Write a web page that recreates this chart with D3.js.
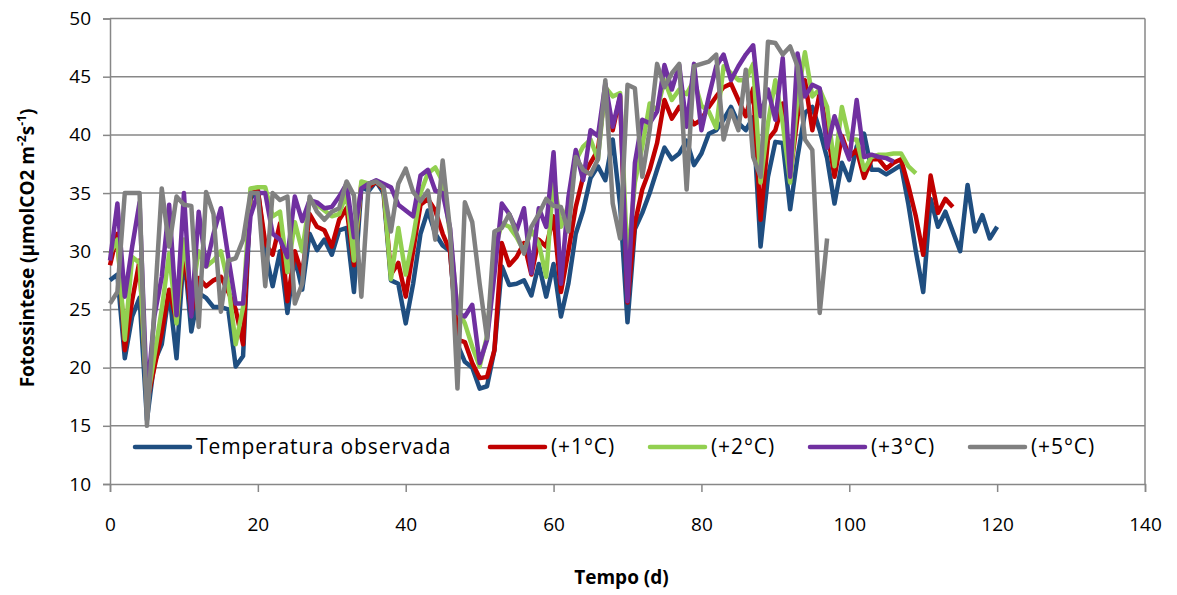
<!DOCTYPE html>
<html>
<head>
<meta charset="utf-8">
<script src="https://cdn.jsdelivr.net/npm/d3@7"></script>
<style>
  body { margin: 0; background: #fff; }
  svg { font-family: "Open Sans", sans-serif; }
</style>
</head>
<body>
<svg width="1177" height="595"></svg>
<script>
// values, one per day (day 0 .. n-1)
const observada = [27.5,28,20.8,24.4,26,15.5,20.5,22,26.5,20.8,30,23.1,26.4,26,25.2,25.2,25,20.1,21,34.5,
  35.3,30,27,30,24.7,29.5,26.7,31.5,30.1,31,29.7,31.8,32,26.5,35.5,35.2,36,35,27.5,27.2,
  23.8,27.2,31.5,33.5,31.5,30.5,30,22,20.5,20,18.2,18.4,21.5,28.7,27.1,27.2,27.5,26.2,28.9,26.1,
  28.9,24.4,27.2,31.5,33.5,36.3,37.3,36.1,39.6,34,23.9,31.9,33.3,35,37,38.9,37.9,38.4,39.5,37.4,
  38.4,40.1,40.4,41.3,42.4,41,40.4,41.5,30.4,36.4,39.4,39.3,33.6,38.1,41.9,42.4,40.4,38,34.1,37.6,
  36.1,39,40.1,37,37,36.6,37,37.4,34,30,26.5,34.5,32.1,33.4,31.7,30,35.7,31.7,33.1,31.1,32.1];
const mais1 = [28.8,31.5,21.5,25.8,29.2,17,20,23,26.7,24,30,24.6,27.7,27,27.5,27.8,26.5,25,22,35,
  35.2,30.7,29.7,32.4,25.7,30,28,33.2,32.1,31.8,30.4,32.7,33.7,28.8,35.8,35.5,36,35.3,28,29,
  26.1,30,34,34.5,33.5,31.5,30,22.4,22.2,20.4,19.1,19.2,21.5,30.7,28.8,29.5,30.7,28,31,30.4,
  33,26.5,30,33.8,36.4,37.6,38.7,43.9,40.4,43.3,25.6,32.4,35.3,37,39.3,43,41.4,42.4,41.9,40.9,
  41.3,42.4,43.3,44.1,44.4,43,41.6,44,32.7,39.6,40.4,42.7,36.4,41.6,44.7,40.4,43.6,40.4,36.4,39.9,
  38.1,38.7,36.3,37.9,37.9,37.1,37.6,37.9,35.6,33,29.7,36.5,33.3,34.5,33.8];
const mais2 = [29.8,31,22.4,29.5,29,17,21,25,29.8,23.8,31,26,30,28.7,29.2,30,27.2,22,25.2,35.4,
  35.5,35.5,33,33.4,28.2,32.5,30,34.4,34,33.5,33,33.2,35,29.2,36,35.8,36,35.5,27.6,32,
  28,31.2,35,36.7,37.2,36,31.5,25,23.8,21.8,20.1,22.7,30,32.4,32.1,31.2,30,31.8,30.7,27.8,
  36.4,32.1,34,37.8,39,39.6,37.9,44.1,43.3,43.6,29,35.9,39,42.7,42.1,44.7,43,43.9,43.5,44.7,
  42.5,42,40.6,45.9,45.3,44.7,44.7,46.1,35.9,41,44.7,41,35.9,43.3,47.1,43.3,43.9,42.4,37.3,42.4,
  39.6,39.6,37,38.1,38.3,38.3,38.4,38.4,37.3,36.7];
const mais3 = [29.2,34.1,26.1,30.4,34.2,17.5,24.4,27.8,34,24.5,35,24.4,33.4,28.7,31.5,33.7,29.5,25.5,25.5,33,
  35,35,31.5,31,29.5,34.7,32.6,34.4,34.2,33.7,33.8,34.7,35.8,31.2,35.4,35.8,36.1,35.8,35.5,34,
  33.5,33,36.5,37,35.2,35,32,24.7,24.4,25.4,20.4,22.4,28,34.1,33.2,31.8,33.7,28.1,33.7,32.1,
  38.5,27.2,34.6,38.7,36.1,40.4,39.9,44.4,40.7,43.4,25.7,37.6,41.3,41,42,46,43.9,46,40.7,46.1,
  40.4,43.3,45.9,46.9,44.7,45.9,46.9,47.7,41.6,43.9,41.3,46.6,36.4,47,43.3,44.3,44,38.9,41.6,39.6,
  37.9,43,38.1,38.3,38.1,38,37.7];
const mais5 = [25.5,26.5,35,35,35,15,25,35.4,30.4,34.7,34,33.9,23.5,35.1,33.2,24.8,29.2,29.4,31,35,
  35,27,35,34.4,34.7,25.5,27.2,34.7,33.4,32.7,33.4,33.7,36,34.8,26.1,35.8,36,35.5,31.7,35.8,
  37.1,35.1,34.3,35.2,31,37.8,31.8,18.2,34.2,32.5,27.2,22.5,31.7,32,33.2,31.5,29.8,32.1,33.2,34.5,
  33.9,33.8,31.7,38.1,37,36.6,37.9,44.7,34.1,31.1,44.3,44,36.4,40.4,46.1,44.1,45.3,46.1,35.3,45.9,
  46.1,46.3,46.9,39.6,42.1,40.4,45.6,38.1,36.4,48,47.9,46.9,47.6,45.9,39.6,38.7,24.7,31.1];

const seriesNames = ["Temperatura observada", "(+1°C)", "(+2°C)", "(+3°C)", "(+5°C)"];
const seriesColors = ["#1f4e80", "#c00000", "#92d050", "#7030a0", "#808080"];
const xTicks = [0, 20, 40, 60, 80, 100, 120, 140];
const yTicks = [10, 15, 20, 25, 30, 35, 40, 45, 50];

const allSeries = [observada, mais1, mais2, mais3, mais5];

const svg = d3.select("svg");
const gridColor = "#878787";

const x = d3.scaleLinear().domain([0, 140]).range([110, 1145]);
const y = d3.scaleLinear().domain([10, 50]).range([484, 18.5]);

// horizontal gridlines
svg.append("g")
  .selectAll("line")
  .data(yTicks.slice(1))
  .join("line")
    .attr("x1", x(0)).attr("x2", x(140))
    .attr("y1", d => y(d)).attr("y2", d => y(d))
    .attr("stroke", gridColor)
    .attr("stroke-width", 1.5);

// right border of plot area
svg.append("line")
  .attr("x1", x(140)).attr("x2", x(140))
  .attr("y1", y(50)).attr("y2", y(10))
  .attr("stroke", gridColor).attr("stroke-width", 1.5);

// Y axis
const yAxis = svg.append("g")
  .attr("transform", `translate(${x(0)},0)`)
  .call(d3.axisLeft(y).tickValues(yTicks).tickSize(7).tickPadding(12));
yAxis.select(".domain").attr("stroke", gridColor).attr("stroke-width", 1.5);
yAxis.selectAll(".tick line").attr("stroke", gridColor).attr("stroke-width", 1.5);
yAxis.selectAll("text").attr("font-size", 19).attr("fill", "#000").attr("font-family", "Open Sans");

// X axis
const xAxis = svg.append("g")
  .attr("transform", `translate(0,${y(10)})`)
  .call(d3.axisBottom(x).tickValues(xTicks).tickSize(8).tickPadding(26));
xAxis.select(".domain").attr("stroke", gridColor).attr("stroke-width", 1.5);
xAxis.selectAll(".tick line").attr("stroke", gridColor).attr("stroke-width", 1.5);
xAxis.selectAll("text").attr("font-size", 19).attr("fill", "#000").attr("font-family", "Open Sans");

// lines
const line = d3.line()
  .x((d, i) => x(i))
  .y(d => y(d));

svg.append("g")
  .selectAll("path")
  .data(allSeries)
  .join("path")
    .attr("d", line)
    .attr("fill", "none")
    .attr("stroke", (d, i) => seriesColors[i])
    .attr("stroke-width", 4.5)
    .attr("stroke-linejoin", "round");

// legend
const legendX = [135, 490, 650, 810, 970];
const legend = svg.append("g")
  .selectAll("g")
  .data(seriesNames)
  .join("g")
    .attr("transform", (d, i) => `translate(${legendX[i]},447)`);
legend.append("line")
  .attr("x1", 0).attr("x2", 55)
  .attr("stroke", (d, i) => seriesColors[i])
  .attr("stroke-width", 4.5)
  .attr("stroke-linecap", "round");
legend.append("text")
  .attr("x", 61)
  .attr("dy", "0.35em")
  .attr("font-size", 21)
  .attr("letter-spacing", 0.9)
  .text(d => d);

// axis titles
svg.append("text")
  .attr("x", x(70) - 6)
  .attr("y", 577)
  .attr("dy", "0.35em")
  .attr("text-anchor", "middle")
  .attr("font-size", 19)
  .attr("font-weight", "bold")
  .text("Tempo (d)");

const yTitle = svg.append("text")
  .attr("transform", "translate(27,248) rotate(-90)")
  .attr("dy", "0.35em")
  .attr("text-anchor", "middle")
  .attr("font-size", 19)
  .attr("font-weight", "bold");
yTitle.append("tspan").text("Fotossintese (µmolCO2 m");
yTitle.append("tspan").attr("baseline-shift", "super").attr("font-size", 12).text("-2");
yTitle.append("tspan").text("s");
yTitle.append("tspan").attr("baseline-shift", "super").attr("font-size", 12).text("-1");
yTitle.append("tspan").text(")");
</script>
</body>
</html>
